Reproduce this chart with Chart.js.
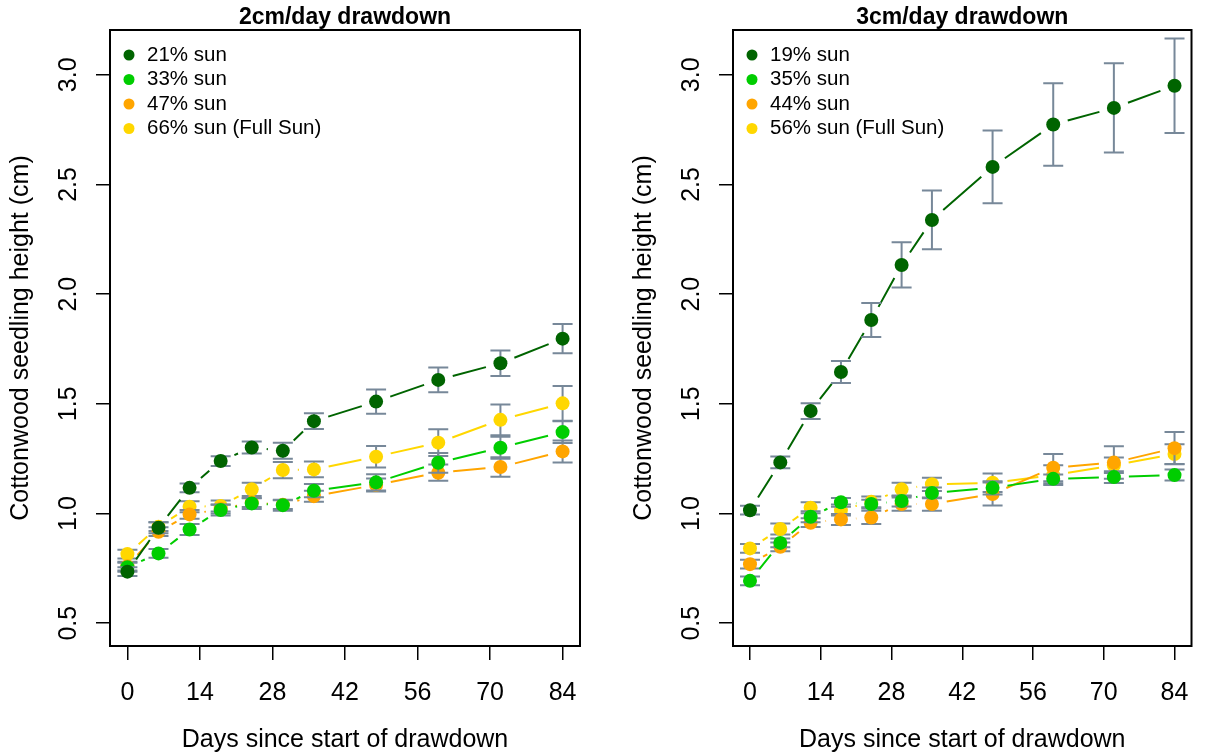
<!DOCTYPE html>
<html>
<head>
<meta charset="utf-8">
<script src="https://cdn.jsdelivr.net/npm/chart.js@4/dist/chart.umd.min.js"></script>
<style>
  html, body { margin: 0; padding: 0; background: #fff; }
  #wrap { position: relative; width: 1207px; height: 756px; }
  canvas { position: absolute; top: 0; }
</style>
</head>
<body>
<div id="wrap">
  <canvas id="c2" width="600" height="756" style="left:0"></canvas>
  <canvas id="c3" width="584" height="756" style="left:623px"></canvas>
</div>
<script>
// sampling days and axis ticks
const days = [0, 6, 12, 18, 24, 30, 36, 48, 60, 72, 84];
const xTicks = [0, 14, 28, 42, 56, 70, 84];
const yTicks = [0.5, 1.0, 1.5, 2.0, 2.5, 3.0];
const colours = ["#006400", "#00CD00", "#FFA500", "#FFD700"];

// 2cm/day drawdown: mean height (cm) and standard error
const labels2 = ["21% sun", "33% sun", "47% sun", "66% sun (Full Sun)"];
const sun21 = [0.735, 0.935, 1.117, 1.239, 1.301, 1.286, 1.421, 1.510, 1.609, 1.685, 1.797];
const sun33 = [0.755, 0.818, 0.927, 1.016, 1.046, 1.038, 1.104, 1.142, 1.231, 1.300, 1.371];
const sun47 = [0.760, 0.917, 0.996, 1.020, 1.050, 1.040, 1.079, 1.130, 1.186, 1.212, 1.283];
const sun66 = [0.815, 0.940, 1.031, 1.034, 1.110, 1.198, 1.201, 1.259, 1.323, 1.427, 1.502];
const se21 = [0.020, 0.025, 0.020, 0.022, 0.027, 0.037, 0.036, 0.055, 0.056, 0.058, 0.067];
const se33 = [0.020, 0.020, 0.025, 0.025, 0.025, 0.025, 0.030, 0.037, 0.045, 0.050, 0.050];
const se47 = [0.020, 0.020, 0.020, 0.020, 0.020, 0.020, 0.025, 0.030, 0.037, 0.044, 0.050];
const se66 = [0.020, 0.020, 0.025, 0.025, 0.030, 0.037, 0.036, 0.049, 0.061, 0.070, 0.079];

// 3cm/day drawdown
const labels3 = ["19% sun", "35% sun", "44% sun", "56% sun (Full Sun)"];
const sun19 = [1.015, 1.233, 1.467, 1.645, 1.882, 2.133, 2.338, 2.580, 2.773, 2.849, 2.950];
const sun35 = [0.693, 0.866, 0.985, 1.051, 1.043, 1.057, 1.094, 1.117, 1.158, 1.166, 1.175];
const sun44 = [0.769, 0.848, 0.958, 0.973, 0.982, 1.043, 1.043, 1.089, 1.209, 1.232, 1.298];
const sun56 = [0.841, 0.929, 1.026, 1.016, 1.053, 1.110, 1.133, 1.140, 1.175, 1.220, 1.271];
const se19 = [0.020, 0.027, 0.036, 0.050, 0.077, 0.103, 0.134, 0.166, 0.188, 0.203, 0.215];
const se35 = [0.020, 0.020, 0.025, 0.020, 0.020, 0.025, 0.025, 0.030, 0.020, 0.027, 0.025];
const se44 = [0.020, 0.020, 0.020, 0.025, 0.030, 0.030, 0.030, 0.052, 0.062, 0.074, 0.073];
const se56 = [0.020, 0.025, 0.025, 0.025, 0.025, 0.030, 0.030, 0.042, 0.045, 0.035, 0.045];

const FONT = "'Liberation Sans', Arial, sans-serif";
const GAP = 15;   // blank space left around each point by the connecting lines
const CAP = 10;   // half width of the error bar caps

// lines between points, stopped short of each marker, then the error bars
const linesAndBars = {
  id: "linesAndBars",
  beforeDatasetDraw(chart, args) {
    const ds = chart.data.datasets[args.index];
    const pts = args.meta.data;
    const ys = chart.scales.y;
    const ctx = chart.ctx;
    ctx.save();
    ctx.strokeStyle = ds.backgroundColor;
    ctx.lineWidth = 2;
    ctx.beginPath();
    for (let i = 1; i < pts.length; i++) {
      const a = pts[i - 1], b = pts[i];
      const dx = b.x - a.x, dy = b.y - a.y, len = Math.hypot(dx, dy);
      if (len <= 2 * GAP) continue;
      const ux = dx / len, uy = dy / len;
      ctx.moveTo(a.x + ux * GAP, a.y + uy * GAP);
      ctx.lineTo(b.x - ux * GAP, b.y - uy * GAP);
    }
    ctx.stroke();

    ctx.strokeStyle = "#778899";
    ctx.lineWidth = 2;
    ctx.beginPath();
    pts.forEach(function (pt, i) {
      const v = ds.data[i].y, e = ds.err[i];
      const top = ys.getPixelForValue(v + e), bot = ys.getPixelForValue(v - e);
      ctx.moveTo(pt.x, top); ctx.lineTo(pt.x, bot);
      ctx.moveTo(pt.x - CAP, top); ctx.lineTo(pt.x + CAP, top);
      ctx.moveTo(pt.x - CAP, bot); ctx.lineTo(pt.x + CAP, bot);
    });
    ctx.stroke();
    ctx.restore();
  }
};

// legend in the top left corner of the plot
const insetLegend = {
  id: "insetLegend",
  afterDraw(chart) {
    const ctx = chart.ctx, area = chart.chartArea;
    ctx.save();
    ctx.font = "20.5px " + FONT;
    ctx.textBaseline = "middle";
    chart.data.datasets.forEach(function (ds, i) {
      const cy = area.top + 25 + i * 24.5;
      ctx.fillStyle = ds.backgroundColor;
      ctx.beginPath();
      ctx.arc(area.left + 19, cy, 5.5, 0, Math.PI * 2);
      ctx.fill();
      ctx.fillStyle = "#000";
      ctx.fillText(ds.label, area.left + 37, cy);
    });
    ctx.restore();
  }
};

// box round the plot region
const frame = {
  id: "frame",
  afterDraw(chart) {
    const ctx = chart.ctx, a = chart.chartArea;
    ctx.save();
    ctx.strokeStyle = "#000";
    ctx.lineWidth = 2;
    ctx.strokeRect(a.left, a.top, a.right - a.left, a.bottom - a.top);
    ctx.restore();
  }
};

function panel(id, title, names, series, errs, padRight) {
  return new Chart(document.getElementById(id), {
    type: "scatter",
    data: {
      datasets: names.map(function (n, i) {
        return {
          label: n,
          data: days.map(function (d, j) { return { x: d, y: series[i][j] }; }),
          err: errs[i],
          backgroundColor: colours[i],
          pointRadius: 7,
          pointHoverRadius: 7,
          pointBorderWidth: 0,
          showLine: false,
          clip: false
        };
      })
    },
    options: {
      responsive: false,
      animation: false,
      events: [],
      layout: { padding: { left: 0, right: padRight, top: 0, bottom: 0 } },
      plugins: {
        legend: { display: false },
        tooltip: { enabled: false },
        title: {
          display: true, text: title, fullSize: false, color: "#000",
          font: { family: FONT, size: 23, weight: "bold", lineHeight: 1 },
          padding: { top: 6, bottom: 1 }
        }
      },
      scales: {
        x: {
          type: "linear", min: -3.36, max: 87.36,
          afterBuildTicks: function (s) { s.ticks = xTicks.map(function (v) { return { value: v }; }); },
          afterFit: function (s) { s.height = 110; },
          border: { display: false },
          grid: { drawOnChartArea: false, tickLength: 14, color: "#000", lineWidth: 1.5 },
          ticks: { color: "#000", font: { family: FONT, size: 25 }, padding: 18, maxRotation: 0, autoSkip: false },
          title: {
            display: true, text: "Days since start of drawdown", color: "#000",
            font: { family: FONT, size: 25 }, padding: { top: 0, bottom: 1 }
          }
        },
        y: {
          type: "linear", min: 0.396, max: 3.204,
          afterBuildTicks: function (s) { s.ticks = yTicks.map(function (v) { return { value: v }; }); },
          afterFit: function (s) { s.width = 110; },
          border: { display: false },
          grid: { drawOnChartArea: false, tickLength: 14, color: "#000", lineWidth: 1.5 },
          ticks: {
            color: "#000", font: { family: FONT, size: 25 }, padding: 10,
            minRotation: 90, maxRotation: 90, crossAlign: "center", autoSkip: false,
            callback: function (v) { return v.toFixed(1); }
          },
          title: {
            display: true, text: "Cottonwood seedling height (cm)", color: "#000",
            font: { family: FONT, size: 25 }, padding: { top: 6, bottom: 0 }
          }
        }
      }
    },
    plugins: [linesAndBars, insetLegend, frame]
  });
}

panel("c2", "2cm/day drawdown", labels2, [sun21, sun33, sun47, sun66], [se21, se33, se47, se66], 20);
panel("c3", "3cm/day drawdown", labels3, [sun19, sun35, sun44, sun56], [se19, se35, se44, se56], 4);
</script>
</body>
</html>
